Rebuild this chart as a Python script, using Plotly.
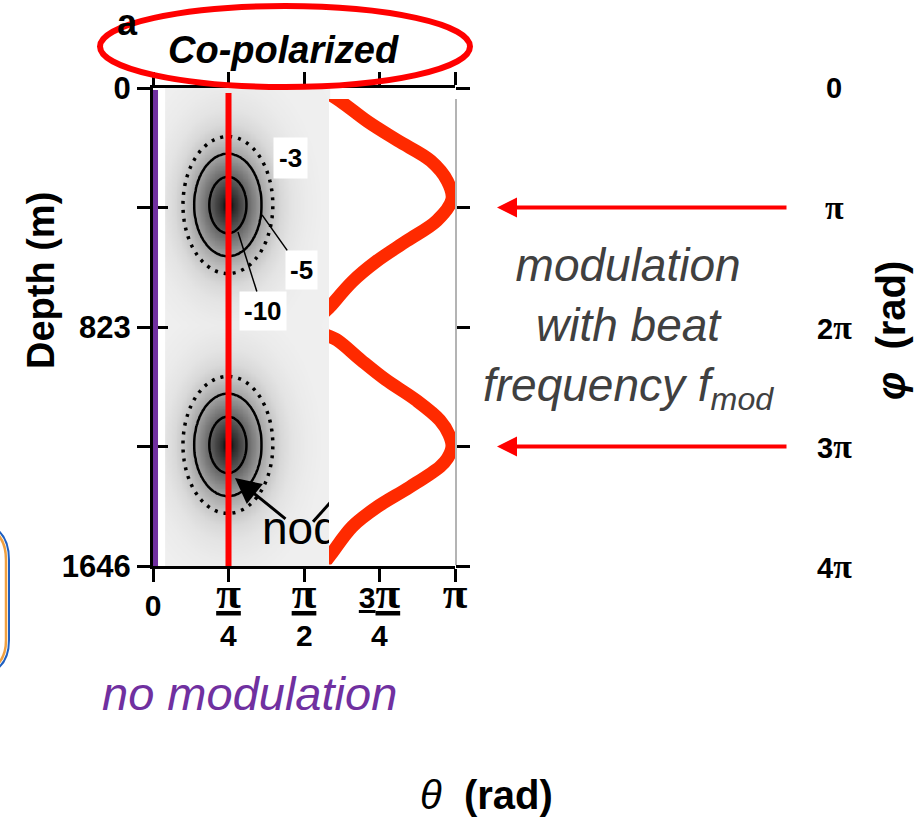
import numpy as np
import plotly.graph_objects as go

PI = np.pi
W, H = 914, 821
FONT = "Liberation Sans, Arial, sans-serif"
SERIF = "Liberation Serif, Times New Roman, serif"

# ---------------- data ----------------
THETA_TICKS = [0, PI / 4, PI / 2, 3 * PI / 4, PI]
THETA_NUMER = ["0", "π", "π", "3π", "π"]
THETA_DENOM = ["", "4", "2", "4", ""]
DEPTH_TICKS = [0, 411.5, 823, 1234.5, 1646]
DEPTH_LABELS = ["0", "", "823", "", "1646"]
PHI_TICKS = [0, PI, 2 * PI, 3 * PI, 4 * PI]
PHI_LABELS = ["0", "π", "2π", "3π", "4π"]

# red modulation curve (phi/pi , theta/pi)
CURVE_PHI = [0.0, 0.11, 0.28, 0.44, 0.61, 0.78, 0.93, 1.11, 1.28, 1.45, 1.62, 1.82, 2.0,
             2.11, 2.28, 2.44, 2.61, 2.78, 2.9, 3.0, 3.1, 3.17, 3.34, 3.51, 3.67, 3.9, 4.0]
CURVE_THETA = [0.55, 0.62, 0.71, 0.81, 0.92, 0.975, 0.99, 0.94, 0.84, 0.74, 0.66, 0.59, 0.53,
               0.61, 0.69, 0.77, 0.87, 0.95, 0.98, 0.99, 0.975, 0.95, 0.85, 0.74, 0.66, 0.59, 0.56]

# intensity blobs (dB): centres and radial profile
BLOB_THETA = 0.248 * PI
BLOB_DEPTHS = [403, 1229]
A_THETA = 0.111 * PI      # semi-axis of -5 dB contour (theta)
B_DEPTH = 176.0           # semi-axis of -5 dB contour (depth)
PROFILE_RHO = [0, 0.18, 0.55, 1.0, 1.34, 1.6, 1.9, 2.3, 2.8, 6.0]
PROFILE_DB = [-22, -16, -10, -5, -3, -1.5, -0.7, -0.3, -0.1, 0]
HEAT_THETA = [0.043 * PI, 0.583 * PI]
HEAT_DEPTH = [0, 1646]

PURPLE_THETA = 0.021
RED_THETA = PI / 4


# ---------------- helpers (pixel -> paper) ----------------
def px(x):
    return x / W


def py(y):
    return 1 - y / H


def phi_of_pix(p):
    return 4 * PI * (p - 88) / 478


def serif_pi(s, size, underline=False):
    s2 = s.replace("π", f"<span style='font-family:{SERIF};font-size:{size}px'>π</span>")
    return f"<u>{s2}</u>" if underline else s2


fig = go.Figure()

tg = np.linspace(HEAT_THETA[0], HEAT_THETA[1], 100)
dg = np.linspace(HEAT_DEPTH[0], HEAT_DEPTH[1], 300)
TT, DD = np.meshgrid(tg, dg)
zs = []
for dc in BLOB_DEPTHS:
    rho = np.sqrt(((TT - BLOB_THETA) / A_THETA) ** 2 + ((DD - dc) / B_DEPTH) ** 2)
    zs.append(np.interp(rho, PROFILE_RHO, PROFILE_DB))
Z = np.minimum(zs[0], zs[1])

ZMIN = -22.0


def zpos(v):
    return (v - ZMIN) / (0 - ZMIN)


cs = [[0.0, "#000000"], [zpos(-16), "#2a2a2a"], [zpos(-10), "#626262"],
      [zpos(-5), "#a2a2a2"], [zpos(-3), "#c6c6c6"], [zpos(-1.5), "#d9d9d9"],
      [zpos(-0.7), "#e4e4e4"], [zpos(-0.3), "#ebebeb"], [1.0, "#f1f1f1"]]
fig.add_trace(go.Heatmap(x=tg, y=dg, z=Z, colorscale=cs, zmin=ZMIN, zmax=0,
                         showscale=False, zsmooth="best", hoverinfo="skip"))
fig.add_trace(go.Contour(x=tg, y=dg, z=Z, autocontour=False,
                         contours=dict(start=-3, end=-3, size=1, coloring="none"),
                         line=dict(color="black", width=3.5, dash="3px,6px"),
                         showscale=False, hoverinfo="skip"))
fig.add_trace(go.Contour(x=tg, y=dg, z=Z, autocontour=False,
                         contours=dict(start=-10, end=-5, size=5, coloring="none"),
                         line=dict(color="black", width=2.5),
                         showscale=False, hoverinfo="skip"))

# "node" label (partly hidden by the white panel) and second pointer line
fig.add_trace(go.Scatter(x=[0.361 * PI], y=[1529], mode="text", text=["node"],
                         textposition="middle right",
                         textfont=dict(size=46, color="black", family=FONT),
                         hoverinfo="skip"))
fig.add_trace(go.Scatter(x=[0.53 * PI, 0.64 * PI], y=[1494, 1365], mode="lines",
                         line=dict(color="black", width=3), hoverinfo="skip"))

# overlay axes placeholders
fig.add_trace(go.Scatter(x=[None], y=[None], yaxis="y3", hoverinfo="skip"))
fig.add_trace(go.Scatter(x=[None], y=[None], yaxis="y4", hoverinfo="skip"))

# red modulation curve in the white panel subplot
fig.add_trace(go.Scatter(x=np.array(CURVE_THETA) * PI, y=np.array(CURVE_PHI) * PI,
                         xaxis="x2", yaxis="y2", mode="lines",
                         line=dict(color="#ff2a00", width=13, shape="spline"),
                         hoverinfo="skip"))

ax_common = dict(showgrid=False, zeroline=False)
tickfont_main = dict(family=FONT, size=31, color="black", weight="bold")

theta_ticktext = []
for t, d in zip(THETA_NUMER, THETA_DENOM):
    if "π" in t:
        theta_ticktext.append(serif_pi(t, 45, underline=(d != "")))
    else:
        theta_ticktext.append(f"<span style='baseline-shift:-8px'>{t}</span>")

fig.update_layout(
    width=W, height=H, margin=dict(l=0, r=0, t=0, b=0, pad=0, autoexpand=False),
    paper_bgcolor="white", plot_bgcolor="white", showlegend=False,
    xaxis=dict(domain=[px(153), px(455)], range=[0, PI], tickvals=THETA_TICKS,
               ticktext=theta_ticktext, ticks="outside", ticklen=13, tickwidth=3,
               tickcolor="black", showline=True, linewidth=3, linecolor="black",
               mirror="ticks", anchor="y", ticklabelstandoff=-10,
               tickfont=dict(family=FONT, size=30, color="black", weight="bold"),
               **ax_common),
    yaxis=dict(domain=[py(566), py(88)], range=[1646, 0], tickvals=DEPTH_TICKS,
               ticktext=DEPTH_LABELS, ticks="outside", ticklen=13, tickwidth=3,
               tickcolor="black", showline=True, linewidth=3, linecolor="black",
               anchor="x", tickfont=tickfont_main, **ax_common),
    yaxis3=dict(overlaying="y", side="right", anchor="x", range=[4 * PI, 0],
                tickvals=PHI_TICKS, ticks="outside", ticklen=14, tickwidth=3,
                tickcolor="black", showticklabels=False, showline=False, **ax_common),
    yaxis4=dict(overlaying="y", side="left", anchor="x", range=[1646, 0],
                tickvals=DEPTH_TICKS, ticks="inside", ticklen=15, tickwidth=3,
                tickcolor="black", showticklabels=False, showline=False, **ax_common),
    xaxis2=dict(domain=[px(329), px(455)], range=[(329 - 153) / 302 * PI, PI],
                anchor="y2", showticklabels=False, ticks="", showline=False, **ax_common),
    yaxis2=dict(domain=[py(564.5), py(99)], range=[phi_of_pix(564.5), phi_of_pix(99)],
                anchor="x2", side="right", showticklabels=False, ticks="",
                showline=True, linecolor="#b4b4b4", linewidth=1.5, **ax_common),
)

shapes = [
    dict(type="circle", xref="paper", yref="paper", x0=px(100), x1=px(470),
         y0=py(87), y1=py(6), line=dict(color="#ff0000", width=6)),
    dict(type="line", xref="x", yref="y", x0=PURPLE_THETA, x1=PURPLE_THETA,
         y0=7, y1=1646, line=dict(color="#7030a0", width=6)),
    dict(type="line", xref="x", yref="y", x0=RED_THETA, x1=RED_THETA,
         y0=17, y1=1663, line=dict(color="#ff0000", width=6)),
    dict(type="path", xref="paper", yref="paper",
         path=f"M {px(-30)},{py(525)} Q {px(6)},{py(525)} {px(6)},{py(560)} "
              f"L {px(6)},{py(640)} Q {px(6)},{py(673)} {px(-30)},{py(673)}",
         line=dict(color="#f0a040", width=2.5)),
    dict(type="path", xref="paper", yref="paper",
         path=f"M {px(-30)},{py(522)} Q {px(9)},{py(522)} {px(9)},{py(560)} "
              f"L {px(9)},{py(640)} Q {px(9)},{py(676)} {px(-30)},{py(676)}",
         line=dict(color="#1f5fbf", width=2)),
]

C = dict(xanchor="center", yanchor="middle")
ann = []
# fraction denominators of the theta ticks
for v, d in zip(THETA_TICKS, THETA_DENOM):
    if d:
        ann.append(dict(x=v, xref="x", y=py(635), yref="paper", text=d, showarrow=False,
                        font=dict(family=FONT, size=30, color="black", weight="bold"), **C))
# right phi labels
for v, t in zip(PHI_TICKS, PHI_LABELS):
    ann.append(dict(x=px(834), xref="paper", y=v, yref="y3", text=serif_pi(t, 34),
                    showarrow=False,
                    font=dict(family=FONT, size=29, color="black", weight="bold"), **C))
# red arrows at pi and 3pi
for v in [PI, 3 * PI]:
    ann.append(dict(x=px(497), xref="paper", y=v, yref="y3", text="", showarrow=True,
                    ax=291, ay=0, arrowhead=2, arrowsize=1, arrowwidth=4,
                    arrowcolor="#ff0000"))
ann += [
    dict(x=px(41), y=py(281), xref="paper", yref="paper", text="Depth (m)",
         textangle=-90, showarrow=False,
         font=dict(family=FONT, size=38, color="black", weight="bold"), **C),
    dict(x=px(891), y=py(331), xref="paper", yref="paper", text="<i>φ</i>  (rad)",
         textangle=-90, showarrow=False,
         font=dict(family=FONT, size=40, color="black", weight="bold"), **C),
    dict(x=px(487), y=py(795), xref="paper", yref="paper", text="<i>θ</i>  <b>(rad)</b>",
         showarrow=False, font=dict(family=FONT, size=40, color="black"), **C),
    dict(x=px(283), y=py(50), xref="paper", yref="paper", text="<i>Co-polarized</i>",
         showarrow=False, font=dict(family=FONT, size=38, color="black", weight="bold"), **C),
    dict(x=px(127), y=py(22), xref="paper", yref="paper", text="a",
         showarrow=False, font=dict(family=FONT, size=36, color="black", weight="bold"), **C),
    dict(x=px(628), y=py(328), xref="paper", yref="paper",
         text="<i>modulation<br>with beat<br>frequency f<sub>mod</sub></i>",
         showarrow=False, align="center",
         font=dict(family=FONT, size=46, color="#404040"), **C),
    dict(x=px(250), y=py(693), xref="paper", yref="paper", text="<i>no modulation</i>",
         showarrow=False, font=dict(family=FONT, size=47, color="#7030a0"), **C),
    # contour labels
    dict(x=0.4560 * PI, y=241, xref="x", yref="y", text="-3", showarrow=False,
         bgcolor="white", borderpad=5,
         font=dict(family=FONT, size=26, color="black", weight="bold"), **C),
    dict(x=0.361 * PI, y=437, xref="x", yref="y", text="-5", showarrow=True,
         ax=39, ay=55, arrowhead=0, arrowwidth=1.5, arrowcolor="black",
         bgcolor="white", borderpad=4,
         font=dict(family=FONT, size=26, color="black", weight="bold")),
    dict(x=0.2815 * PI, y=496, xref="x", yref="y", text="-10", showarrow=True,
         ax=25, ay=79, arrowhead=0, arrowwidth=1.5, arrowcolor="black",
         bgcolor="white", borderpad=4,
         font=dict(family=FONT, size=26, color="black", weight="bold")),
    # node arrow
    dict(x=0.2715 * PI, y=1343, xref="x", yref="y", text="", showarrow=True,
         ax=52, ay=42, arrowhead=2, arrowsize=1.7, arrowwidth=3, arrowcolor="black"),
]

fig.update_layout(shapes=shapes, annotations=ann)

POST = ("document.documentElement.style.margin='0';document.body.style.margin='0';"
        "document.body.style.padding='0';document.documentElement.style.overflow='hidden';"
        "document.body.style.overflow='hidden';")
fig.write_html("out.html", post_script=POST)
